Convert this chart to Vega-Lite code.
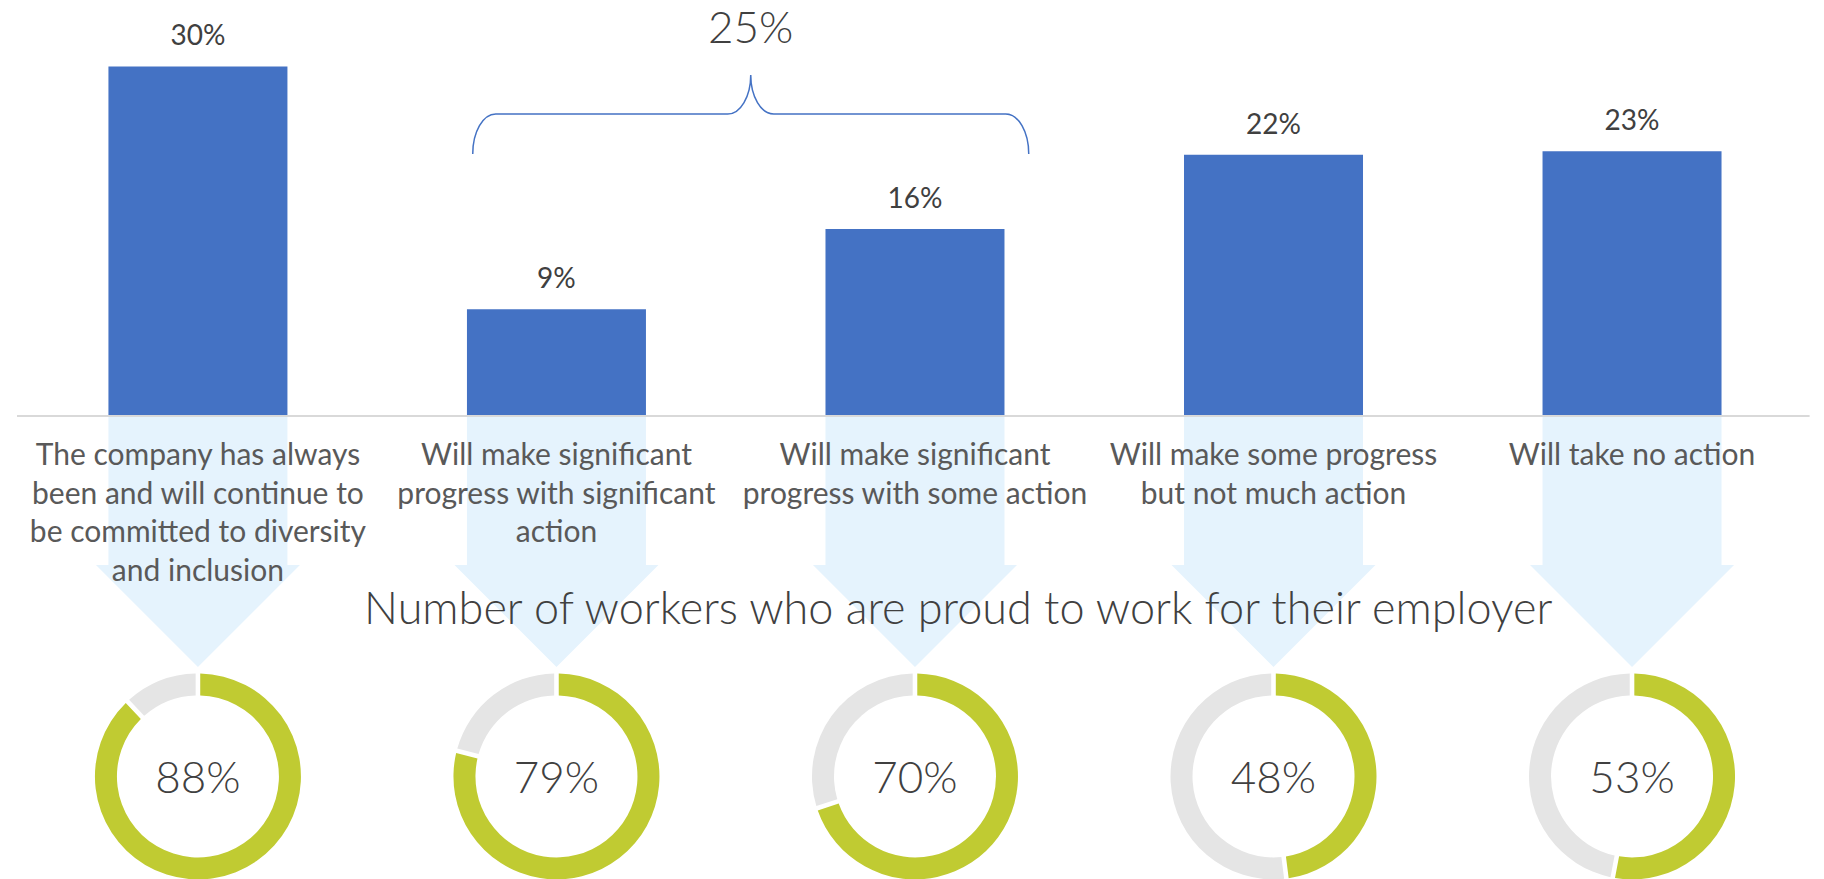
{
  "$schema": "https://vega.github.io/schema/vega-lite/v6.json",
  "width": 1824,
  "height": 879,
  "autosize": "none",
  "padding": 0,
  "background": "white",
  "config": {"view": {"stroke": null}, "text": {"font": "Lato"}},
  "datasets": {
    "bars": [
      {"i": 1, "category": "The company has always been and will continue to be committed to diversity and inclusion", "label": ["The company has always", "been and will continue to", "be committed to diversity", "and inclusion"], "pct": 0.30, "proud": 0.88},
      {"i": 2, "category": "Will make significant progress with significant action", "label": ["Will make significant", "progress with significant", "action"], "pct": 0.091, "proud": 0.79},
      {"i": 3, "category": "Will make significant progress with some action", "label": ["Will make significant", "progress with some action"], "pct": 0.16, "proud": 0.70},
      {"i": 4, "category": "Will make some progress but not much action", "label": ["Will make some progress", "but not much action"], "pct": 0.224, "proud": 0.48},
      {"i": 5, "category": "Will take no action", "label": ["Will take no action"], "pct": 0.227, "proud": 0.53}
    ],
    "donut": [
      {"i": 1, "seg": "proud", "from": 0, "to": 0.88},
      {"i": 1, "seg": "not", "from": 0.88, "to": 1},
      {"i": 2, "seg": "proud", "from": 0, "to": 0.79},
      {"i": 2, "seg": "not", "from": 0.79, "to": 1},
      {"i": 3, "seg": "proud", "from": 0, "to": 0.70},
      {"i": 3, "seg": "not", "from": 0.70, "to": 1},
      {"i": 4, "seg": "proud", "from": 0, "to": 0.48},
      {"i": 4, "seg": "not", "from": 0.48, "to": 1},
      {"i": 5, "seg": "proud", "from": 0, "to": 0.53},
      {"i": 5, "seg": "not", "from": 0.53, "to": 1}
    ]
  },
  "layer": [
    {
      "data": {"name": "bars"},
      "mark": {"type": "point", "shape": "M-0.7103,-1 L0.7103,-1 L0.7103,0.1905 L0.8095,0.1905 L0,1 L-0.8095,0.1905 L-0.7103,0.1905 Z", "size": 63504, "filled": true, "fill": "#E5F3FD", "opacity": 1, "strokeWidth": 0},
      "encoding": {
        "x": {"field": "i", "type": "quantitative", "scale": {"domain": [0.46186, 5.5215], "nice": false, "zero": false}, "axis": null},
        "y": {"datum": -0.108434, "type": "quantitative", "scale": {"domain": [-0.39931, 0.35714], "nice": false, "zero": false}, "axis": null}
      }
    },
    {
      "data": {"values": [{}]},
      "mark": {"type": "rule", "color": "#D9D9D9", "strokeWidth": 2},
      "encoding": {
        "x": {"datum": 0.4953, "type": "quantitative", "scale": {"domain": [0.46186, 5.5215], "nice": false, "zero": false}, "axis": null},
        "x2": {"datum": 5.4953},
        "y": {"datum": -0.0008, "type": "quantitative", "scale": {"domain": [-0.39931, 0.35714], "nice": false, "zero": false}, "axis": null}
      }
    },
    {
      "data": {"name": "bars"},
      "mark": {"type": "bar", "width": 179, "color": "#4472C4"},
      "encoding": {
        "x": {"field": "i", "type": "quantitative", "scale": {"domain": [0.46186, 5.5215], "nice": false, "zero": false}, "axis": null},
        "y": {"field": "pct", "type": "quantitative", "scale": {"domain": [-0.39931, 0.35714], "nice": false, "zero": false}, "axis": null},
        "y2": {"datum": 0}
      }
    },
    {
      "data": {"name": "bars"},
      "mark": {"type": "text", "fontSize": 28, "color": "#404040", "align": "center", "baseline": "alphabetic", "dy": -21},
      "encoding": {
        "x": {"field": "i", "type": "quantitative", "scale": {"domain": [0.46186, 5.5215], "nice": false, "zero": false}, "axis": null},
        "y": {"field": "pct", "type": "quantitative", "scale": {"domain": [-0.39931, 0.35714], "nice": false, "zero": false}, "axis": null},
        "text": {"field": "pct", "type": "quantitative", "format": ".0%"}
      }
    },
    {
      "data": {"values": [{}]},
      "mark": {"type": "point", "shape": "M-1,0.1421 C-1,0.0626 -0.963,-0.0018 -0.9173,-0.0018 L-0.0827,-0.0018 C-0.037,-0.0018 0,-0.0646 0,-0.1421 C0,-0.0646 0.037,-0.0018 0.0827,-0.0018 L0.9173,-0.0018 C0.963,-0.0018 1,0.0626 1,0.1421", "size": 309136, "filled": false, "stroke": "#4472C4", "strokeWidth": 1.5, "opacity": 1},
      "encoding": {
        "x": {"datum": 2.5419, "type": "quantitative", "scale": {"domain": [0.46186, 5.5215], "nice": false, "zero": false}, "axis": null},
        "y": {"datum": 0.2586, "type": "quantitative", "scale": {"domain": [-0.39931, 0.35714], "nice": false, "zero": false}, "axis": null}
      }
    },
    {
      "data": {"name": "bars"},
      "transform": [
        {"filter": "datum.i == 2 || datum.i == 3"},
        {"aggregate": [{"op": "sum", "field": "pct", "as": "total"}]}
      ],
      "mark": {"type": "text", "fontSize": 44, "fontWeight": 300, "color": "#404040", "align": "center", "baseline": "alphabetic"},
      "encoding": {
        "x": {"datum": 2.5419, "type": "quantitative", "scale": {"domain": [0.46186, 5.5215], "nice": false, "zero": false}, "axis": null},
        "y": {"datum": 0.3199, "type": "quantitative", "scale": {"domain": [-0.39931, 0.35714], "nice": false, "zero": false}, "axis": null},
        "text": {"field": "total", "type": "quantitative", "format": ".0%"}
      }
    },
    {
      "data": {"name": "bars"},
      "mark": {"type": "text", "fontSize": 30, "lineHeight": 38.5, "color": "#595959", "align": "center", "baseline": "alphabetic"},
      "encoding": {
        "x": {"field": "i", "type": "quantitative", "scale": {"domain": [0.46186, 5.5215], "nice": false, "zero": false}, "axis": null},
        "y": {"datum": -0.04303, "type": "quantitative", "scale": {"domain": [-0.39931, 0.35714], "nice": false, "zero": false}, "axis": null},
        "text": {"field": "label"}
      }
    },
    {
      "data": {"values": [{}]},
      "mark": {"type": "text", "fontSize": 45, "fontWeight": 300, "color": "#404040", "align": "center", "baseline": "alphabetic"},
      "encoding": {
        "x": {"datum": 3.1207, "type": "quantitative", "scale": {"domain": [0.46186, 5.5215], "nice": false, "zero": false}, "axis": null},
        "y": {"datum": -0.17986, "type": "quantitative", "scale": {"domain": [-0.39931, 0.35714], "nice": false, "zero": false}, "axis": null},
        "text": {"value": "Number of workers who are proud to work for their employer"}
      }
    },
    {
      "data": {"name": "donut"},
      "mark": {"type": "arc", "outerRadius": 103, "innerRadius": 81, "padAngle": 0.035},
      "encoding": {
        "x": {"field": "i", "type": "quantitative", "stack": null, "scale": {"domain": [0.46186, 5.5215], "nice": false, "zero": false}, "axis": null},
        "y": {"datum": -0.31102, "type": "quantitative", "scale": {"domain": [-0.39931, 0.35714], "nice": false, "zero": false}, "axis": null},
        "theta": {"field": "from", "type": "quantitative", "stack": null, "scale": {"domain": [0, 1], "range": [0, 6.283185307179586]}},
        "theta2": {"field": "to"},
        "color": {"field": "seg", "type": "nominal", "scale": {"domain": ["proud", "not"], "range": ["#C0CB32", "#E5E5E5"]}, "legend": null}
      }
    },
    {
      "data": {"name": "bars"},
      "mark": {"type": "text", "fontSize": 44, "fontWeight": 300, "color": "#404040", "align": "center", "baseline": "alphabetic"},
      "encoding": {
        "x": {"field": "i", "type": "quantitative", "scale": {"domain": [0.46186, 5.5215], "nice": false, "zero": false}, "axis": null},
        "y": {"datum": -0.32556, "type": "quantitative", "scale": {"domain": [-0.39931, 0.35714], "nice": false, "zero": false}, "axis": null},
        "text": {"field": "proud", "type": "quantitative", "format": ".0%"}
      }
    }
  ]
}
